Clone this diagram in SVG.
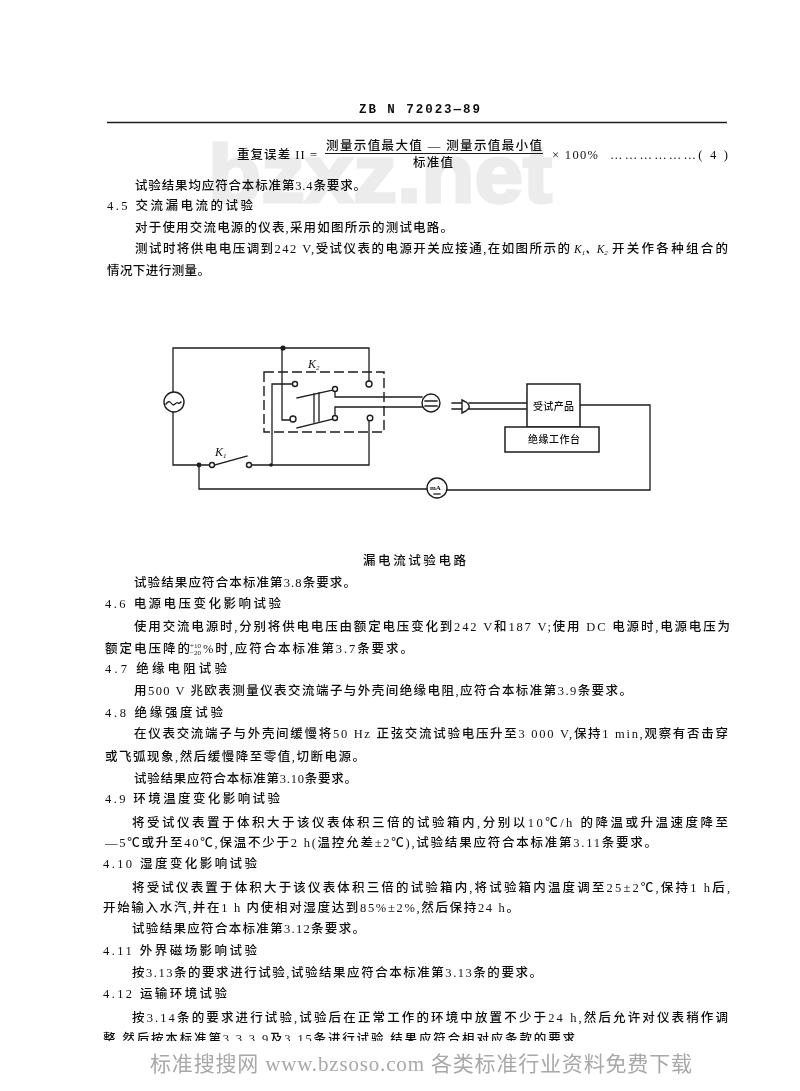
<svg xmlns="http://www.w3.org/2000/svg" width="800" height="1091" viewBox="0 0 800 1091">
<style>
text{font-family:"Liberation Serif","Noto Sans CJK SC",serif;font-size:12.5px;fill:#111;font-weight:500}
.h{font-weight:700}
.k{font-style:italic;font-size:11.5px}
.s{font-size:7px}
.w{fill:none;stroke:#1c1c1c;stroke-width:1.3;stroke-linecap:square}
.t{fill:#fff;stroke:#1c1c1c;stroke-width:1.4}
.d{fill:#1c1c1c}
.b{fill:#fff;stroke:#1c1c1c;stroke-width:1.5}
.foot{fill:#a8a8a8;font-size:21px;font-weight:400}
.mark{font-family:"Liberation Sans",sans-serif;font-weight:700;font-size:81px;fill:#ececec;stroke:#ececec;stroke-width:3}
</style>
<defs><filter id="soft" x="0" y="0" width="100%" height="100%"><feGaussianBlur stdDeviation="0.3"/></filter></defs>
<rect width="800" height="1091" fill="#fff"/>
<text class="mark" x="208" y="202" textLength="344" lengthAdjust="spacingAndGlyphs">bzxz.net</text>
<g filter="url(#soft)">
<g id="page-text">
<text class="h" x="359" y="113" textLength="121" style="font-family:'Liberation Mono','Noto Sans CJK SC',monospace">ZB N 72023—89</text>
<line x1="107" y1="122.500" x2="727" y2="122.500" stroke="#1c1c1c" stroke-width="1.5"/>
<text x="237" y="158.500" textLength="80">重复误差 II =</text>
<text x="326" y="150" textLength="216">测量示值最大值 — 测量示值最小值</text>
<line x1="325" y1="153.500" x2="543" y2="153.500" stroke="#1c1c1c" stroke-width="1.1"/>
<text x="413" y="167" textLength="40">标准值</text>
<text x="552" y="158.500" textLength="46">× 100%</text>
<text x="610" y="158.500" textLength="118">………………( 4 )</text>
<text x="135" y="190" textLength="231">试验结果均应符合本标准第3.4条要求。</text>
<text x="107" y="210" textLength="146">4.5  交流漏电流的试验</text>
<text x="135" y="231.500" textLength="318">对于使用交流电源的仪表,采用如图所示的测试电路。</text>
<text x="135" y="253" textLength="435">测试时将供电电压调到242 V,受试仪表的电源开关应接通,在如图所示的</text>
<text class="k" x="574" y="253">K<tspan class="s" dy="2">1</tspan><tspan dy="-2">、K</tspan><tspan class="s" dy="2">2</tspan></text>
<text x="612" y="253" textLength="116">开关作各种组合的</text>
<text x="107" y="275" textLength="103">情况下进行测量。</text>
<text x="363" y="565" textLength="103">漏电流试验电路</text>
<text x="134" y="586.500" textLength="222">试验结果应符合本标准第3.8条要求。</text>
<text x="105" y="607.500" textLength="176">4.6  电源电压变化影响试验</text>
<text x="134" y="630.500" textLength="596">使用交流电源时,分别将供电电压由额定电压变化到242 V和187 V;使用 DC 电源时,电源电压为</text>
<text x="105" y="652.500" textLength="85">额定电压降的</text>
<text class="s" x="190" y="648">+10</text>
<text class="s" x="190" y="655">−20</text>
<text x="203" y="652.500" textLength="210">%时,应符合本标准第3.7条要求。</text>
<text x="105" y="672.500" textLength="122">4.7  绝缘电阻试验</text>
<text x="134" y="694.500" textLength="498">用500 V 兆欧表测量仪表交流端子与外壳间绝缘电阻,应符合本标准第3.9条要求。</text>
<text x="105" y="716.500" textLength="118">4.8  绝缘强度试验</text>
<text x="134" y="737.500" textLength="594">在仪表交流端子与外壳间缓慢将50 Hz 正弦交流试验电压升至3 000 V,保持1 min,观察有否击穿</text>
<text x="105" y="760.500" textLength="260">或飞弧现象,然后缓慢降至零值,切断电源。</text>
<text x="134" y="782.500" textLength="223">试验结果应符合本标准第3.10条要求。</text>
<text x="105" y="802.500" textLength="175">4.9  环境温度变化影响试验</text>
<text x="132" y="826.500" textLength="596">将受试仪表置于体积大于该仪表体积三倍的试验箱内,分别以10℃/h 的降温或升温速度降至</text>
<text x="105" y="846.500" textLength="552">—5℃或升至40℃,保温不少于2 h(温控允差±2℃),试验结果应符合本标准第3.11条要求。</text>
<text x="103" y="867.500" textLength="154">4.10  湿度变化影响试验</text>
<text x="132" y="891.500" textLength="598">将受试仪表置于体积大于该仪表体积三倍的试验箱内,将试验箱内温度调至25±2℃,保持1 h后,</text>
<text x="103" y="911.500" textLength="416">开始输入水汽,并在1 h 内使相对湿度达到85%±2%,然后保持24 h。</text>
<text x="132" y="932.500" textLength="233">试验结果应符合本标准第3.12条要求。</text>
<text x="103" y="954.500" textLength="154">4.11  外界磁场影响试验</text>
<text x="132" y="976.500" textLength="410">按3.13条的要求进行试验,试验结果应符合本标准第3.13条的要求。</text>
<text x="103" y="997.500" textLength="124">4.12  运输环境试验</text>
<text x="132" y="1021.500" textLength="596">按3.14条的要求进行试验,试验后在正常工作的环境中放置不少于24 h,然后允许对仪表稍作调</text>
<text x="103" y="1042.500" textLength="472">整,然后按本标准第3.3.3.9及3.15条进行试验,结果应符合相对应条款的要求</text>
<rect x="0" y="1041" width="800" height="50" fill="#fff"/>
<text class="foot" x="150" y="1071" textLength="542">标准搜搜网 www.bzsoso.com 各类标准行业资料免费下载</text>
</g>
<g id="connectors">
<path class="w" d="M173 392V348H369V381"/>
<path class="w" d="M173 412V465H209"/>
<path class="w" d="M215 465L247 456"/>
<path class="w" d="M252 465H369V421"/>
<path class="w" d="M272 465V384H292"/>
<path class="w" d="M282 348V420H290"/>
<path class="w" d="M297 398L333 390"/>
<path class="w" d="M297 428L333 419"/>
<path class="w" d="M314 394V422M319 393V421"/>
<path class="w" d="M335 392V397H422"/>
<path class="w" d="M335 415V407H422"/>
<path class="w" d="M199 465V489H427"/>
<path class="w" d="M447 490H650V405H580"/>
<path class="w" d="M469 403H527M469 409H527"/>
<path class="w" d="M452 403H462M452 409H462"/>
</g>
<g id="source"><circle class="t" cx="174" cy="402" r="10"/><path class="w" d="M166 404q3-4 5-1t4 1 3-1 3-1"/></g>
<g id="junctions"><circle class="d" cx="283" cy="348" r="2.600"/><circle class="d" cx="199" cy="465" r="2.400"/><circle class="d" cx="271" cy="465" r="1.800"/></g>
<g id="K1">
<circle class="t" cx="212" cy="465" r="2.500"/><circle class="t" cx="249" cy="465" r="2.500"/>
<text class="k" x="215" y="456" style="font-size:12px">K<tspan class="s" dy="2">1</tspan></text>
</g>
<g id="K2">
<rect x="264" y="372" width="120" height="60" fill="none" stroke="#1c1c1c" stroke-width="1.4" stroke-dasharray="10 4"/>
<circle class="t" cx="295" cy="384" r="2.500"/><circle class="t" cx="293" cy="419" r="3"/>
<circle class="t" cx="335" cy="389" r="2.500"/><circle class="t" cx="335" cy="418" r="2.500"/>
<circle class="t" cx="369" cy="384" r="3"/><circle class="t" cx="370" cy="418" r="2.800"/>
<text class="k" x="308" y="368" style="font-size:12px">K<tspan class="s" dy="2">2</tspan></text>
</g>
<g id="meter"><circle class="t" cx="431" cy="403" r="9"/><path class="w" d="M425 401H437M425 406H437"/></g>
<g id="plug"><path class="t" d="M462 400L466 402Q470 405 469 408L466 411L462 413Z"/></g>
<g id="product"><rect class="b" x="527" y="384" width="53" height="43"/><text x="533" y="410" textLength="41" style="font-size:10px">受试产品</text></g>
<g id="table"><rect class="b" x="505" y="427" width="94" height="25"/><text x="528" y="443" textLength="52" style="font-size:10px">绝缘工作台</text></g>
<g id="mA"><circle class="t" cx="437" cy="488" r="10"/><text x="430" y="490" style="font-size:7px;font-weight:700">mA</text><path class="w" d="M434 494H440"/></g>
</g>
</svg>
